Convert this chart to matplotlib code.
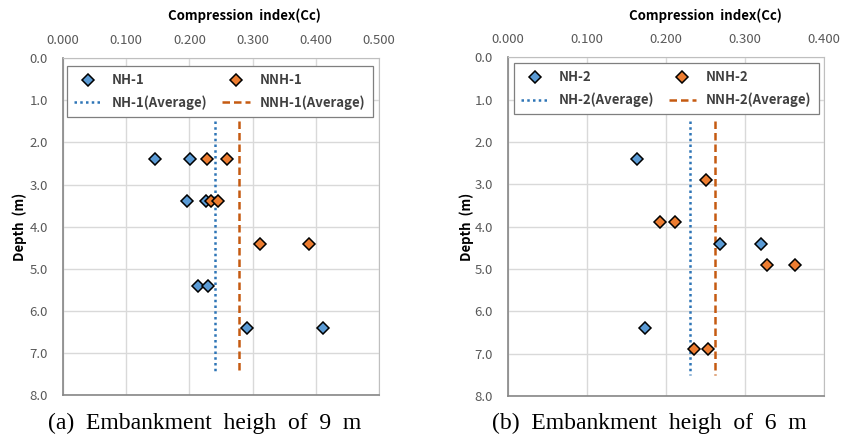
import numpy as np
import matplotlib
matplotlib.use("Agg")
import matplotlib.pyplot as plt

# panel (a): embankment height 9 m
nh1_cc = [0.145, 0.201, 0.197, 0.226, 0.213, 0.230, 0.291, 0.412]
nh1_depth = [2.4, 2.4, 3.4, 3.4, 5.4, 5.4, 6.4, 6.4]
nnh1_cc = [0.228, 0.260, 0.234, 0.245, 0.311, 0.389]
nnh1_depth = [2.4, 2.4, 3.4, 3.4, 4.4, 4.4]
nh1_avg = 0.241
nnh1_avg = 0.2785

# panel (b): embankment height 6 m
nh2_cc = [0.163, 0.268, 0.320, 0.173]
nh2_depth = [2.4, 4.4, 4.4, 6.4]
nnh2_cc = [0.251, 0.192, 0.211, 0.328, 0.363, 0.236, 0.253]
nnh2_depth = [2.9, 3.9, 3.9, 4.9, 4.9, 6.9, 6.9]
nh2_avg = 0.231
nnh2_avg = 0.262

avg_depth = [1.5, 7.5]
depth_ticks = [0.0, 1.0, 2.0, 3.0, 4.0, 5.0, 6.0, 7.0, 8.0]

BLUE = "#5B9BD5"
ORANGE = "#ED7D31"
BLUE_LINE = "#2E75B6"
ORANGE_LINE = "#C55A11"
TICK_C = "#595959"
FONT = ["Noto Sans CJK KR", "DejaVu Sans"]

plt.rcParams["font.family"] = FONT

fig = plt.figure(figsize=(8.41, 4.38), dpi=100)


def panel(rect, cc_a, d_a, cc_b, d_b, avg_a, avg_b, xmax, tag, caption,
          title_x, ylab_x, leg_box):
    ax = fig.add_axes(rect)
    ax.set_xlim(0, xmax)
    ax.set_ylim(8.0, 0.0)
    xt = np.arange(0, xmax + 1e-9, 0.1)
    ax.set_xticks(xt)
    ax.set_xticklabels(["%.3f" % v for v in xt])
    ax.set_yticks(depth_ticks)
    ax.set_yticklabels(["%.1f" % v for v in depth_ticks])
    ax.xaxis.tick_top()
    ax.tick_params(axis="both", length=0, labelsize=9.5, labelcolor=TICK_C)
    ax.tick_params(axis="x", pad=8)
    ax.tick_params(axis="y", pad=11)
    ax.grid(True, color="#D9D9D9", linewidth=1.0)
    ax.set_axisbelow(True)
    for s in ["top", "right"]:
        ax.spines[s].set_color("#BFBFBF")
    for s in ["bottom", "left"]:
        ax.spines[s].set_color("#868686")
        ax.spines[s].set_linewidth(1.2)

    h1, = ax.plot(cc_a, d_a, linestyle="none", marker="D", markersize=6,
                  markerfacecolor=BLUE, markeredgecolor="black", markeredgewidth=1.1,
                  label="NH-%s" % tag, zorder=3)
    h2, = ax.plot(cc_b, d_b, linestyle="none", marker="D", markersize=6,
                  markerfacecolor=ORANGE, markeredgecolor="black", markeredgewidth=1.1,
                  label="NNH-%s" % tag, zorder=4)
    h3, = ax.plot([avg_a, avg_a], avg_depth, color=BLUE_LINE, linestyle=(0, (1, 1.3)),
                  linewidth=1.8, label="NH-%s(Average)" % tag, zorder=2)
    h4, = ax.plot([avg_b, avg_b], avg_depth, color=ORANGE_LINE, linestyle=(0, (3, 1.6)),
                  linewidth=1.8, label="NNH-%s(Average)" % tag, zorder=2)

    leg = ax.legend([h1, h3, h2, h4], [h.get_label() for h in [h1, h3, h2, h4]],
                    ncol=2, loc="upper left", bbox_to_anchor=leg_box,
                    mode="expand", borderaxespad=0, fancybox=False, framealpha=1,
                    edgecolor="#7F7F7F",
                    prop={"family": FONT, "size": 9.5, "weight": "bold"},
                    handlelength=2.1, handletextpad=0.75, borderpad=0.55,
                    labelspacing=0.62, columnspacing=1.0)
    leg.get_frame().set_linewidth(0.9)
    for t in leg.get_texts():
        t.set_color("#404040")

    fig.text(title_x, 0.965, "Compression  index(Cc)", ha="center", va="center",
             fontsize=9.5, fontweight="bold", color="black")
    fig.text(ylab_x, (rect[1] + rect[3] / 2), "Depth  (m)", ha="center", va="center",
             rotation=90, fontsize=9.5, fontweight="bold", color="black")
    fig.text(rect[0] + rect[2] / 2 - 0.02, 0.034, caption, ha="center", va="center",
             fontsize=17, family="Liberation Serif", color="black")
    return ax


panel([0.0749, 0.098, 0.3757, 0.769], nh1_cc, nh1_depth, nnh1_cc, nnh1_depth,
      nh1_avg, nnh1_avg, 0.5, "1", "(a)  Embankment  heigh  of  9  m", 0.291, 0.024,
      (0.0127, 0.977, 0.968, 0.0))
panel([0.604, 0.096, 0.3757, 0.773], nh2_cc, nh2_depth, nnh2_cc, nnh2_depth,
      nh2_avg, nnh2_avg, 0.4, "2", "(b)  Embankment  heigh  of  6  m", 0.839, 0.555,
      (0.019, 0.983, 0.965, 0.0))

fig.savefig("out.png", dpi=100)
